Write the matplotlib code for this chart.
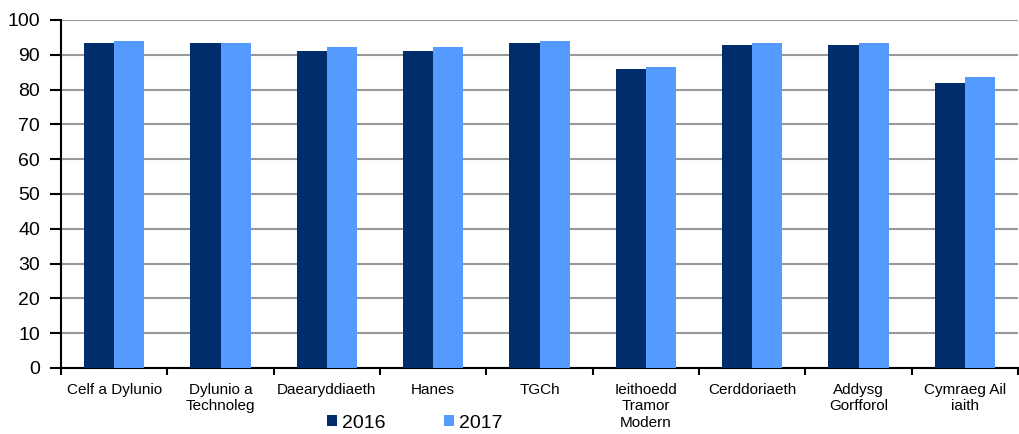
import numpy as np
import matplotlib.pyplot as plt

plt.rcParams['font.family'] = ['Liberation Sans', 'DejaVu Sans']

categories = ["Celf a Dylunio", "Dylunio a\nTechnoleg", "Daearyddiaeth", "Hanes", "TGCh",
              "Ieithoedd\nTramor\nModern", "Cerddoriaeth", "Addysg\nGorfforol", "Cymraeg Ail\niaith"]
values_2016 = [93.3, 93.3, 91.0, 91.0, 93.3, 85.8, 92.7, 92.7, 81.8]
values_2017 = [93.9, 93.3, 92.2, 92.2, 93.9, 86.4, 93.3, 93.3, 83.5]
years = ["2016", "2017"]
colors = ["#002D6B", "#559BFF"]

fig = plt.figure(figsize=(10.19, 4.34), dpi=100)
ax = fig.add_axes([61 / 1019, 66 / 434, 957 / 1019, 348 / 434])

x = np.arange(len(categories))
w = 0.283
ax.bar(x - w / 2, values_2016, w, color=colors[0], label=years[0], zorder=3)
ax.bar(x + w / 2, values_2017, w, color=colors[1], label=years[1], zorder=3)

ax.set_xlim(-0.5, len(categories) - 0.5)
ax.set_ylim(0, 100)
ax.set_yticks(np.arange(0, 101, 10))
ax.yaxis.grid(True, color="#999999", linewidth=1.5, zorder=0)

ax.set_xticks(x)
ax.set_xticklabels(categories, fontsize=11, linespacing=1.2)
ax.set_xticks(np.arange(-0.5, len(categories), 1), minor=True)
ax.tick_params(axis="x", which="major", length=0, pad=11)
ax.tick_params(axis="x", which="minor", length=5, width=1.5, direction="out")
ax.tick_params(axis="y", length=8, width=1.5, labelsize=14, pad=7)

for s in ["top", "right"]:
    ax.spines[s].set_visible(False)
for s in ["left", "bottom"]:
    ax.spines[s].set_linewidth(1.5)
    ax.spines[s].set_color("black")

fig.legend(loc="center", bbox_to_anchor=(415 / 1019, 1 - 423 / 434), ncol=2, frameon=False,
           fontsize=14, handlelength=0.52, handleheight=0.52, handletextpad=0.25, columnspacing=3.0)

fig.savefig("out.png", dpi=100)
